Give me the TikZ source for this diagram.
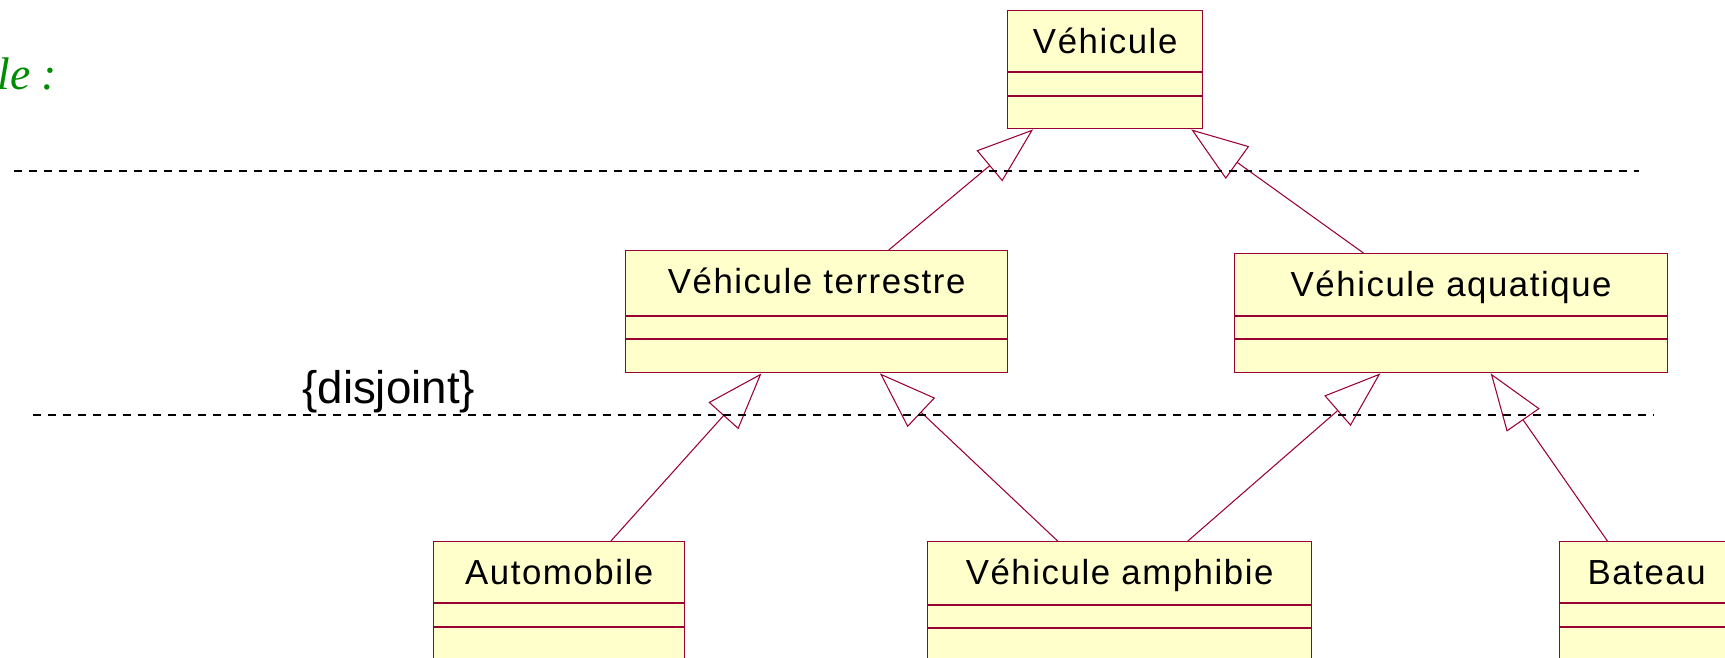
\documentclass[tikz,border=0pt]{standalone}
\usepackage{fontspec}
\newfontfamily\classfont{Liberation Sans}[LetterSpace=4.5]
\newfontfamily\notefont{Liberation Sans}
\newfontfamily\titlefont{Liberation Serif}
\usetikzlibrary{arrows.meta, calc}
\definecolor{umlred}{RGB}{153,0,51}
\definecolor{umlfill}{RGB}{255,255,204}
\definecolor{titlegreen}{RGB}{0,140,0}

\begin{document}
\begin{tikzpicture}[x=0.02cm, y=-0.02cm,
  >={Triangle[open, length=1.14cm, width=0.8cm]},
  classe/.style={draw=umlred, fill=umlfill, line width=0.8pt, inner sep=0pt,
    anchor=north west, text height=0.86cm,
    font=\classfont\fontsize{19.8}{24}\selectfont},
  herit/.style={->, draw=umlred, line width=0.6pt},
  sep/.style={dash pattern=on 0.16cm off 0.14cm, line width=1.5pt}]
  \useasboundingbox (0,0) rectangle (1725,657);
  % titre (coupe a gauche)
  \node[anchor=base west, inner sep=0pt, text=titlegreen,
    font=\titlefont\itshape\fontsize{26}{30}\selectfont] (titre) at (-3,89) {le :};
  % classes
  \node[classe, minimum width=3.9cm, text depth=1.5cm] (veh) at (1007,10) {Véhicule};
  \node[classe, minimum width=7.64cm, text depth=1.58cm] (ter) at (625,250) {Véhicule terrestre};
  \node[classe, minimum width=8.66cm, text depth=1.52cm] (aqu) at (1234,253) {Véhicule aquatique};
  \node[classe, minimum width=5.02cm, text depth=2.32cm] (auto) at (433,541) {Automobile};
  \node[classe, minimum width=7.68cm, text depth=2.32cm] (amph) at (927,541) {Véhicule amphibie};
  \node[classe, minimum width=3.48cm, text depth=2.32cm] (bat) at (1559,541) {Bateau};
  % compartiments
  \foreach \c/\a/\b in {veh/62/86, ter/66/89, aqu/63/86, auto/62/86, amph/64/87, bat/62/86}{
    \draw[umlred, line width=0.6pt] ($(\c.north west)+(0,\a)$) -- ($(\c.north east)+(0,\a)$);
    \draw[umlred, line width=0.6pt] ($(\c.north west)+(0,\b)$) -- ($(\c.north east)+(0,\b)$);
  }
  % heritages
  \draw[herit] ($(ter.north west)!0.688!(ter.north east)$) -- ($(veh.south west)!0.133!(veh.south east)$);
  \draw[herit] ($(aqu.north west)!0.298!(aqu.north east)$) -- ($(veh.south west)!0.938!(veh.south east)$);
  \draw[herit] ($(auto.north west)!0.705!(auto.north east)$) -- ($(ter.south west)!0.356!(ter.south east)$);
  \draw[herit] ($(amph.north west)!0.339!(amph.north east)$) -- ($(ter.south west)!0.665!(ter.south east)$);
  \draw[herit] ($(amph.north west)!0.677!(amph.north east)$) -- ($(aqu.south west)!0.337!(aqu.south east)$);
  \draw[herit] ($(bat.north west)!0.276!(bat.north east)$) -- ($(aqu.south west)!0.591!(aqu.south east)$);
  % separations
  \draw[sep] (14,171) -- (1639,171);
  \draw[sep] (33,415) -- (1654,415);
  \node[anchor=base west, inner sep=0pt, font=\notefont\fontsize{26}{30}\selectfont] (disjoint) at (302,403) {\{disjoint\}};
\end{tikzpicture}
\end{document}
